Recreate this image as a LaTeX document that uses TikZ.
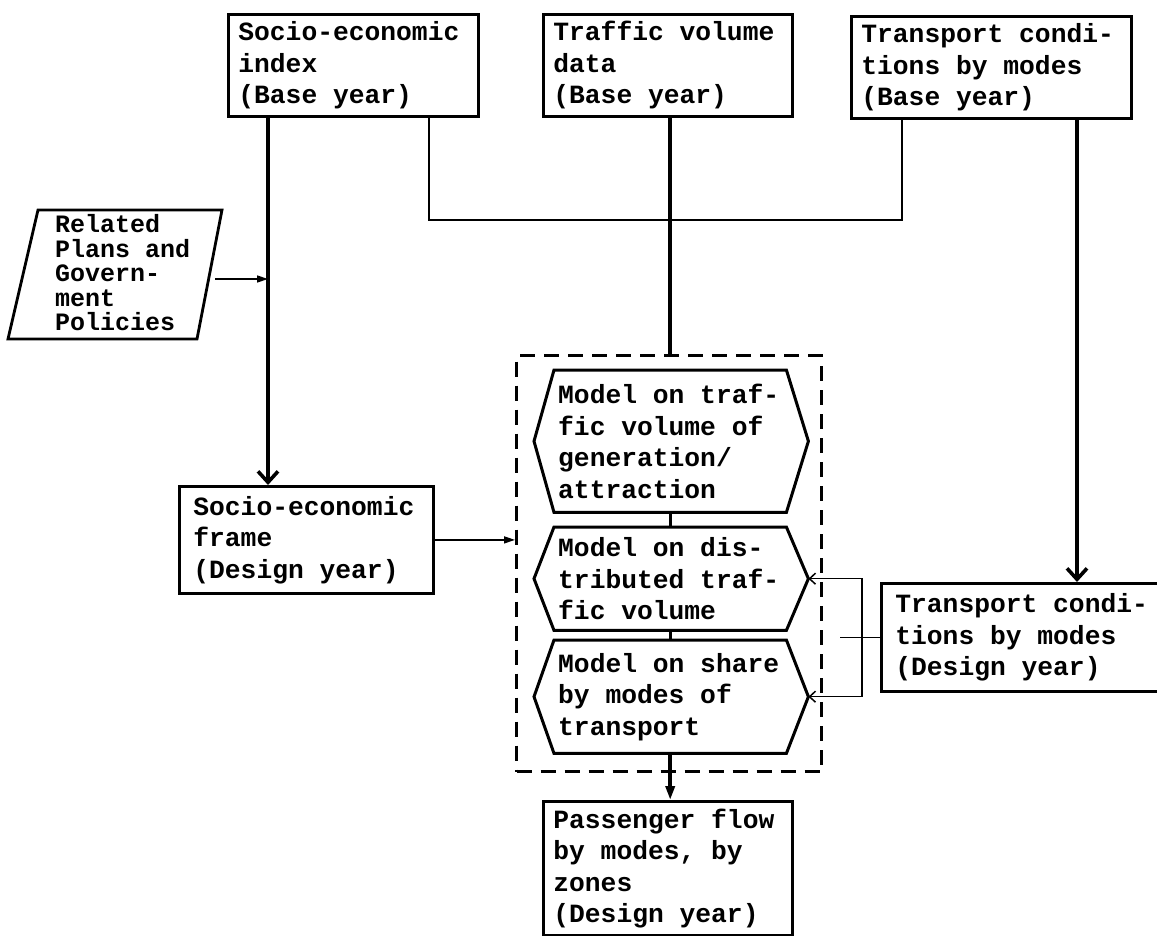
\documentclass[tikz,border=0pt]{standalone}
\usepackage{fontspec}
\setmainfont{Liberation Mono}
\usetikzlibrary{arrows.meta,calc}
\begin{document}
\begin{tikzpicture}[x=1pt,y=-1pt,
  txt/.style={font=\bfseries\fontsize{26.3}{31.5}\selectfont, align=left, execute at begin node={\spaceskip=0.6em\relax}},
  boxn/.style={txt, draw, line width=2.8pt, anchor=north west, inner xsep=10pt, inner ysep=0pt},
  hexn/.style={txt, anchor=north west, minimum width=232, inner xsep=4pt, inner ysep=0pt, text width=224},
  hexline/.style={line width=3pt, line join=miter},
  heavy/.style={line width=3.6pt},
  med/.style={line width=2.8pt, line cap=rect},
  light/.style={line width=1.5pt},
  vee/.style={-{Straight Barb[length=11pt,width=20pt]}},
  tri/.style={-{Triangle[length=11pt,width=7pt]}},
  dashbox/.style={draw, line width=3pt, dash pattern=on 15pt off 9pt, anchor=north west, inner sep=0pt}
]
\useasboundingbox (0,0) rectangle (1157,936);

% top boxes
\node[boxn, minimum width=250, minimum height=102, text width=230] (b1) at (227,13) {Socio-economic\\index\\(Base year)};
\node[boxn, minimum width=249, minimum height=102, text width=229] (b2) at (542,13) {Traffic volume\\data\\(Base year)};
\node[boxn, minimum width=280, minimum height=102, text width=260] (b3) at (850,15) {Transport condi-\\tions by modes\\(Base year)};

% parallelogram
\coordinate (pTL) at (38,210);
\coordinate (pTR) at (222,210);
\coordinate (pBR) at (197,339);
\coordinate (pBL) at (8,339);
\draw[line width=2.8pt, line join=miter] (pTL) -- (pTR) -- (pBR) -- (pBL) -- cycle;
\node[txt, font=\bfseries\fontsize{25}{24.5}\selectfont, anchor=west, text width=150, inner sep=0pt] (rp) at (55,273) {Related\\Plans and\\Govern-\\ment\\Policies};

% frame box
\node[boxn, minimum width=254, minimum height=107, text width=226, inner xsep=14pt] (fr) at (178,485) {Socio-economic\\frame\\(Design year)};

% dashed box and hexagons
\node[dashbox, minimum width=305, minimum height=416] (db) at (515,354) {};
\node[hexn, minimum height=142] (h1) at (554,370) {Model on traf-\\fic volume of\\generation/\\attraction};
\node[hexn, minimum height=103] (h2) at (554,527) {Model on dis-\\tributed traf-\\fic volume};
\node[hexn, minimum height=113] (h3) at (554,640) {Model on share\\by modes of\\transport};
\foreach \h in {h1,h2,h3}
  \draw[hexline] (\h.north west) -- (\h.north east) -- ([xshift=22pt]\h.east) -- (\h.south east) -- (\h.south west) -- ([xshift=-20pt]\h.west) -- cycle;

% design-year transport box and passenger box
\node[boxn, minimum width=290, minimum height=108, text width=262, inner xsep=14pt] (td) at (880,582) {Transport condi-\\tions by modes\\(Design year)};
\node[boxn, minimum width=249, minimum height=134, text width=229] (pf) at (542,800) {Passenger flow\\by modes, by\\zones\\(Design year)};

% connectors
\coordinate (xL) at (268,0);
\coordinate (xR) at (1077,0);
\coordinate (jL) at (429,220);
\coordinate (jR) at (902,220);
\coordinate (brx) at (840,0);

\draw[heavy, vee] (b1.south -| xL) -- (fr.north -| xL);
\draw[med] (b1.south -| jL) -- (jL);
\draw[light] (jL) -- (jR);
\draw[med] (jR) -- (b3.south -| jR);
\draw[heavy] (b2.south -| h1.north) -- (db.north -| h1.north);
\draw[heavy, vee] (b3.south -| xR) -- (td.north -| xR);

\draw[light, tri] ([xshift=10pt]rp.east |- 0,279) -- (xL |- 0,279);
\draw[light, tri] (fr.east) -- (fr.east -| db.west);

\draw[med, line cap=butt] (h1.south) -- (h2.north);
\draw[med, line cap=butt] (h2.south) -- (h3.north);
\draw[heavy, -{Triangle[length=14pt,width=9pt]}] (h3.south) -- (h3.south |- pf.north);

\draw[light, {Straight Barb[length=6pt,width=11pt]}-{Straight Barb[length=6pt,width=11pt]}]
  ([xshift=22pt]h2.east) -- ([xshift=22pt]h2.east -| brx) -- ([xshift=22pt]h3.east -| brx) -- ([xshift=22pt]h3.east);
\draw[light] (td.west) -- (td.west -| brx);
\end{tikzpicture}
\end{document}
